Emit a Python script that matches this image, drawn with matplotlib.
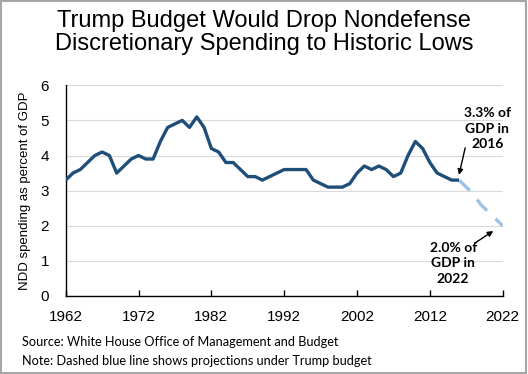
import matplotlib
matplotlib.use("Agg")
import matplotlib.pyplot as plt
from matplotlib.patches import Rectangle

# %% data
years_actual = list(range(1962, 2017))
ndd_actual = [
    3.3, 3.5, 3.6, 3.8, 4.0, 4.1, 4.0, 3.5, 3.7, 3.9,
    4.0, 3.9, 3.9, 4.4, 4.8, 4.9, 5.0, 4.8, 5.1, 4.8,
    4.2, 4.1, 3.8, 3.8, 3.6, 3.4, 3.4, 3.3, 3.4, 3.5,
    3.6, 3.6, 3.6, 3.6, 3.3, 3.2, 3.1, 3.1, 3.1, 3.2,
    3.5, 3.7, 3.6, 3.7, 3.6, 3.4, 3.5, 4.0, 4.4, 4.2,
    3.8, 3.5, 3.4, 3.3, 3.3,
]
years_proj = list(range(2016, 2023))
ndd_proj = [3.3, 3.1, 2.9, 2.6, 2.4, 2.2, 2.0]

xticks = [1962, 1972, 1982, 1992, 2002, 2012, 2022]
yticks = [0, 1, 2, 3, 4, 5, 6]

title = "Trump Budget Would Drop Nondefense\nDiscretionary Spending to Historic Lows"
ylabel = "NDD spending as percent of GDP"
source = "Source: White House Office of Management and Budget"
note = "Note: Dashed blue line shows projections under Trump budget"

# %% figure
plt.rcParams["font.family"] = ["Liberation Sans", "DejaVu Sans"]

fig = plt.figure(figsize=(5.28, 3.74), dpi=100)
fig.patches.append(
    Rectangle((0.002, 0.003), 0.995, 0.994, transform=fig.transFigure,
              fill=False, edgecolor="#a6a6a6", linewidth=1.5)
)

ax = fig.add_axes([0.1244, 0.2086, 0.8277, 0.5634])

ax.plot(years_proj, ndd_proj, color="#9dc3e6", linewidth=2.4,
        dashes=(4.5, 3.5), zorder=2)
ax.plot(years_actual, ndd_actual, color="#1f4e79", linewidth=2.4,
        solid_capstyle="butt", zorder=3)

ax.set_xlim(1962, 2022)
ax.set_ylim(0, 6)
ax.set_xticks(xticks)
ax.set_yticks(yticks)
ax.tick_params(axis="x", direction="in", length=4, width=1, labelsize=11, pad=10)
ax.tick_params(axis="y", length=0, labelsize=11, pad=12)
ax.grid(axis="y", color="#d9d9d9", linewidth=0.8)
ax.set_axisbelow(True)
ax.spines[["right", "top"]].set_visible(False)
ax.spines[["left", "bottom"]].set_color("black")
ax.spines[["left", "bottom"]].set_linewidth(1.0)
ax.set_ylabel(ylabel, fontsize=9.5, labelpad=7)

# annotations
ann_kw = dict(fontsize=10, fontweight="bold", family=["Lato", "DejaVu Sans"],
              ha="center", va="center", linespacing=1.35)
arrow_kw = dict(arrowstyle="-|>", color="black", lw=1, mutation_scale=8,
                shrinkA=0, shrinkB=0)
ax.text(2019.9, 4.76, "3.3% of\nGDP in\n2016", **ann_kw)
ax.annotate("", xy=(2016.0, 3.45), xytext=(2016.85, 4.22), arrowprops=arrow_kw)
ax.text(2015.2, 0.93, "2.0% of\nGDP in\n2022", **ann_kw)
ax.annotate("", xy=(2020.7, 1.85), xytext=(2018.2, 1.51), arrowprops=arrow_kw)

fig.text(0.5, 0.913, title, ha="center", va="center", fontsize=17,
         linespacing=1.05)
fig.text(0.042, 0.085, source, fontsize=9.2, family=["Lato", "DejaVu Sans"],
         va="center")
fig.text(0.042, 0.034, note, fontsize=9.2, family=["Lato", "DejaVu Sans"],
         va="center")

fig.savefig("out.png", dpi=100)
